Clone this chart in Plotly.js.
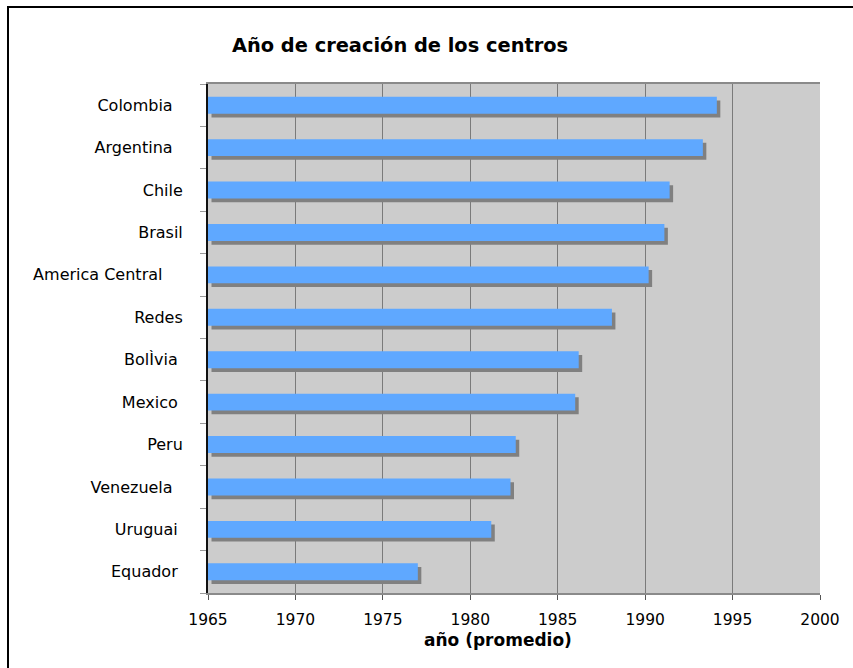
<!DOCTYPE html>
<html>
<head>
<meta charset="utf-8">
<script src="https://cdn.plot.ly/plotly-3.0.1.min.js"></script>
<style>
  html, body { margin: 0; padding: 0; background: #ffffff; }
  #wrap { position: relative; width: 853px; height: 668px; overflow: hidden; }
  #chart { position: absolute; left: 0; top: 0; width: 853px; height: 668px; }
  #frame { position: absolute; left: 7px; top: 6px; width: 900px; height: 700px;
           border: 2px solid #000; pointer-events: none; box-sizing: border-box; }
</style>
</head>
<body>
<div id="wrap">
  <div id="chart"></div>
  <div id="frame"></div>
</div>
<script>
// Categories (top to bottom as shown)
const categories = ['Colombia', 'Argentina', 'Chile', 'Brasil', 'America Central', 'Redes',
                    'BolÌvia', 'Mexico', 'Peru', 'Venezuela', 'Uruguai', 'Equador'];
// Tick labels as written in the source (some with trailing spaces)
const tickLabels = ['Colombia\u00a0\u00a0', 'Argentina\u00a0\u00a0', 'Chile', 'Brasil', 'America Central\u00a0\u00a0\u00a0\u00a0', 'Redes',
                    'BolÌvia\u00a0', 'Mexico\u00a0', 'Peru', 'Venezuela\u00a0\u00a0', 'Uruguai\u00a0', 'Equador\u00a0'];
// Average creation year
const years = [1994.1, 1993.3, 1991.4, 1991.1, 1990.2, 1988.1,
               1986.2, 1986.0, 1982.6, 1982.3, 1981.2, 1977.0];
const xTicks = [1965, 1970, 1975, 1980, 1985, 1990, 1995, 2000];

const axisMin = 1965;
const shadowShiftX = 0.2;   // years
const shadowShiftY = 0.088; // categories
const barWidth = 0.4;

const shadow = {
  type: 'bar', orientation: 'h',
  y: categories,
  x: years.map(v => v - axisMin),
  base: axisMin + shadowShiftX,
  width: barWidth,
  offset: -barWidth / 2 + shadowShiftY,
  marker: { color: '#808080', line: { width: 0 } },
  hoverinfo: 'skip',
  showlegend: false
};
const bars = {
  type: 'bar', orientation: 'h',
  y: categories,
  x: years.map(v => v - axisMin),
  base: axisMin,
  width: barWidth,
  offset: -barWidth / 2,
  marker: { color: '#5fa8ff', line: { width: 0 } },
  name: 'Año',
  showlegend: false
};

const layout = {
  width: 853, height: 668,
  margin: { l: 208, r: 33, t: 84, b: 75 },
  paper_bgcolor: 'rgba(0,0,0,0)',
  plot_bgcolor: '#cccccc',
  barmode: 'overlay',
  font: { family: 'DejaVu Sans, Verdana, sans-serif', color: '#000', size: 15 },
  title: {
    text: 'Año de creación de los centros',
    font: { family: 'DejaVu Sans, Verdana, sans-serif', size: 19.4, weight: 700, color: '#000' },
    xref: 'container', yref: 'container',
    x: 0.469, xanchor: 'center',
    y: 1 - 45 / 668, yanchor: 'middle'
  },
  xaxis: {
    range: [1965, 2000],
    tickvals: xTicks,
    ticktext: xTicks.map(String),
    showgrid: true, gridcolor: '#7a7a7a', gridwidth: 1,
    zeroline: false,
    showline: true, linecolor: '#8a8a8a', linewidth: 2, mirror: true,
    ticks: 'outside', ticklen: 5, tickcolor: '#555', tickwidth: 1,
    tickfont: { size: 15.5 },
    ticklabelstandoff: 6,
    fixedrange: true
  },
  yaxis: {
    type: 'category',
    categoryorder: 'array', categoryarray: categories,
    tickvals: categories, ticktext: tickLabels,
    range: [11.5, -0.5],
    showgrid: false, zeroline: false,
    showline: true, linecolor: '#111', linewidth: 2,
    ticks: 'outside', tickson: 'boundaries', ticklen: 6, tickcolor: '#999', tickwidth: 1,
    tickfont: { size: 16 },
    ticklabelstandoff: 20,
    fixedrange: true
  },
  annotations: [{
    text: 'año (promedio)',
    xref: 'paper', yref: 'paper',
    x: (498 - 208) / 612, xanchor: 'center',
    y: -(640 - 593) / 509, yanchor: 'middle',
    showarrow: false,
    font: { size: 17, weight: 700, color: '#000' }
  }]
};

Plotly.newPlot('chart', [shadow, bars], layout, { displayModeBar: false, staticPlot: true });
</script>
</body>
</html>
